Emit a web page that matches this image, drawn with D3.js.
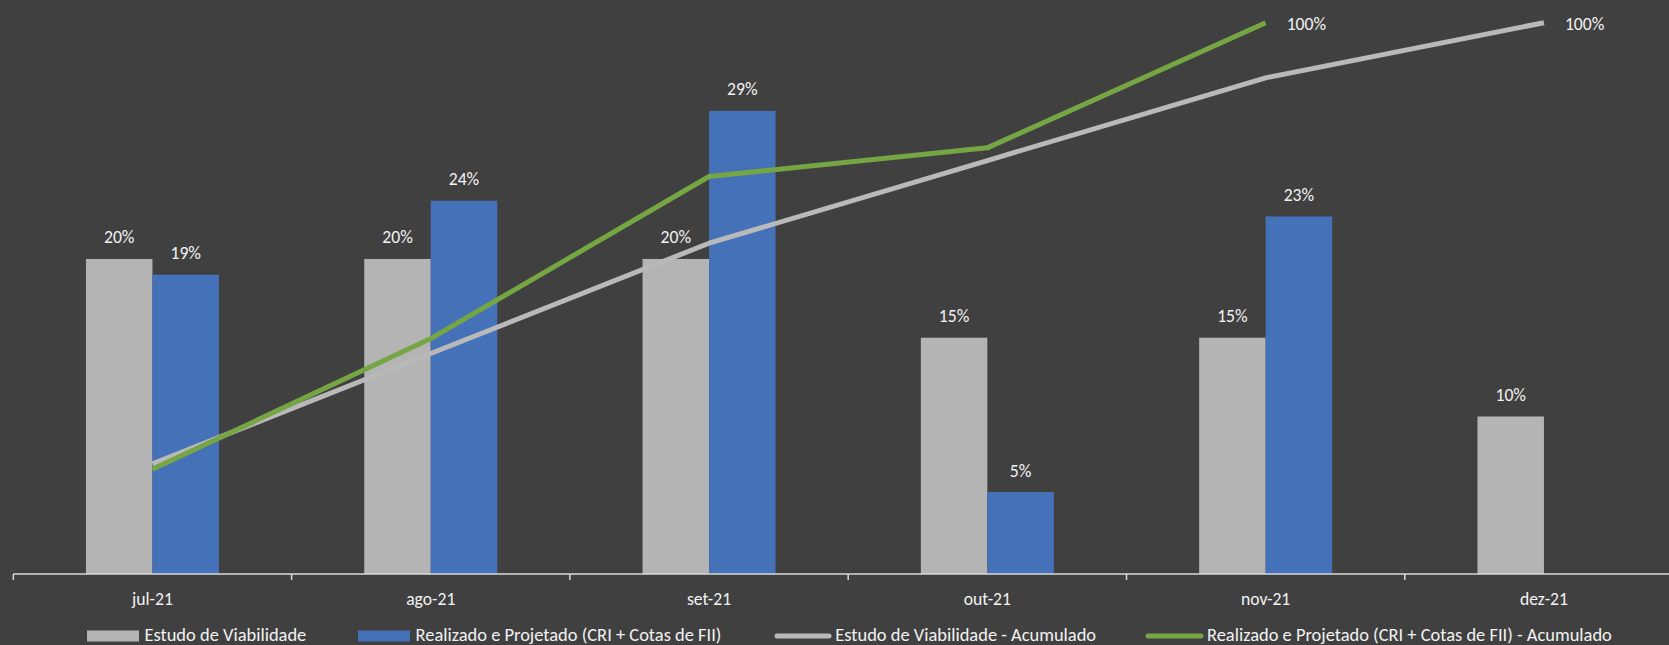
<!DOCTYPE html>
<html><head><meta charset="utf-8">
<script src="https://cdn.jsdelivr.net/npm/d3@7"></script>
<style>
html,body{margin:0;padding:0;background:#404040;}
svg{display:block;}
text{font-family:Carlito,"Open Sans",Lato,sans-serif;fill:#f2f2f2;}
</style></head><body>
<svg id="chart" width="1669" height="645"></svg>
<script>
const categories = ["jul-21","ago-21","set-21","out-21","nov-21","dez-21"];
const estudo = [20, 20, 20, 15, 15, 10];
const realizado = [19.0, 23.7, 29.4, 5.2, 22.7];
const estudoAcum = [20, 40, 60, 75, 90, 100];
const realizadoAcum = [19.0, 42.7, 72.1, 77.3, 100];
const estudoLabels = ["20%","20%","20%","15%","15%","10%"];
const realizadoLabels = ["19%","24%","29%","5%","23%"];
const estudoAcumLabels = ["","","","","","100%"];
const realizadoAcumLabels = ["","","","","100%"];
const seriesNames = ["Estudo de Viabilidade","Realizado e Projetado (CRI + Cotas de FII)","Estudo de Viabilidade - Acumulado","Realizado e Projetado (CRI + Cotas de FII) - Acumulado"];

const C = {bg:"#404040", gray:"#b4b4b4", blue:"#4471b8", green:"#76a544", grayLine:"#b9b9b9", axis:"#d9d9d9"};

const svg = d3.select("#chart");
svg.append("rect").attr("width",1669).attr("height",645).attr("fill",C.bg);

// fit font sizes to reference text widths
function fitSize(str, target){
  const t = svg.append("text").attr("font-size",20).text(str);
  const w = t.node().getComputedTextLength(); t.remove();
  return 20*target/w;
}
const FS_LEG = fitSize(seriesNames[3], 405);
const FS = fitSize("10%", 30.5);

const left = 13.3, step = 278.3, baseY = 574, topY = 22.7;
const x0 = d3.scaleBand().domain(categories).range([left, left + step*categories.length]).padding(0);
const x1 = d3.scaleBand().domain(["e","r"]).range([0, x0.bandwidth()]).paddingInner(0).paddingOuter(1.0925);
const yL = d3.scaleLinear().domain([0, 35]).range([baseY, topY]);
const yR = d3.scaleLinear().domain([0, 100]).range([baseY, topY]);

// bars
const g = svg.append("g");
g.selectAll("rect.e").data(estudo).join("rect").attr("class","e")
  .attr("x",(d,i)=>x0(categories[i])+x1("e")).attr("width",x1.bandwidth())
  .attr("y",d=>yL(d)).attr("height",d=>baseY-yL(d)).attr("fill",C.gray);
g.selectAll("rect.r").data(realizado).join("rect").attr("class","r")
  .attr("x",(d,i)=>x0(categories[i])+x1("r")).attr("width",x1.bandwidth())
  .attr("y",d=>yL(d)).attr("height",d=>baseY-yL(d)).attr("fill",C.blue);

// axis
const axis = svg.append("g");
axis.append("line").attr("x1",left).attr("x2",1669).attr("y1",baseY).attr("y2",baseY)
  .attr("stroke",C.axis).attr("stroke-width",1.5);
axis.selectAll("line.tk").data(categories).join("line").attr("class","tk")
  .attr("x1",d=>x0(d)).attr("x2",d=>x0(d)).attr("y1",baseY).attr("y2",baseY+6)
  .attr("stroke",C.axis).attr("stroke-width",1.5);
axis.selectAll("text").data(categories).join("text")
  .attr("x",d=>x0(d)+x0.bandwidth()/2).attr("y",599).attr("text-anchor","middle")
  .attr("dominant-baseline","central").attr("font-size",FS).text(d=>d);

// lines
const cx = (i)=>x0(categories[i])+x0.bandwidth()/2;
const line = d3.line().x((d,i)=>cx(i)).y(d=>yR(d));
svg.append("path").datum(estudoAcum).attr("d",line).attr("fill","none")
  .attr("stroke",C.grayLine).attr("stroke-width",5).attr("stroke-linejoin","round");
svg.append("path").datum(realizadoAcum).attr("d",line).attr("fill","none")
  .attr("stroke",C.green).attr("stroke-width",5).attr("stroke-linejoin","round");

// data labels
const lab = svg.append("g").attr("font-size",FS);
lab.selectAll("text.e").data(estudo).join("text").attr("class","e")
  .attr("x",(d,i)=>x0(categories[i])+x1("e")+x1.bandwidth()/2).attr("y",d=>yL(d)-21.5)
  .attr("text-anchor","middle").attr("dominant-baseline","central").text((d,i)=>estudoLabels[i]);
lab.selectAll("text.r").data(realizado).join("text").attr("class","r")
  .attr("x",(d,i)=>x0(categories[i])+x1("r")+x1.bandwidth()/2).attr("y",d=>yL(d)-21.5)
  .attr("text-anchor","middle").attr("dominant-baseline","central").text((d,i)=>realizadoLabels[i]);
lab.selectAll("text.ea").data(estudoAcum).join("text").attr("class","ea")
  .attr("x",(d,i)=>cx(i)+21).attr("y",d=>yR(d)+1)
  .attr("dominant-baseline","central").text((d,i)=>estudoAcumLabels[i]);
lab.selectAll("text.ra").data(realizadoAcum).join("text").attr("class","ra")
  .attr("x",(d,i)=>cx(i)+21).attr("y",d=>yR(d)+1)
  .attr("dominant-baseline","central").text((d,i)=>realizadoAcumLabels[i]);

// legend
const legY = 634.5;
const leg = svg.append("g").attr("font-size",FS_LEG);
const legItems = [
  {type:"rect", color:C.gray, x:87, w:52, tx:144.5},
  {type:"rect", color:C.blue, x:358, w:52, tx:415.6},
  {type:"line", color:C.grayLine, x:777, w:52, tx:835.3},
  {type:"line", color:C.green, x:1148, w:53, tx:1207}
];
legItems.forEach((it,i)=>{
  if(it.type==="rect"){
    leg.append("rect").attr("x",it.x).attr("y",legY-4).attr("width",it.w).attr("height",11).attr("fill",it.color);
  } else {
    leg.append("line").attr("x1",it.x).attr("x2",it.x+it.w).attr("y1",legY+1.5).attr("y2",legY+1.5)
      .attr("stroke",it.color).attr("stroke-width",5).attr("stroke-linecap","round");
  }
  leg.append("text").attr("x",it.tx).attr("y",legY).attr("dominant-baseline","central").text(seriesNames[i]);
});
</script>
</body></html>
